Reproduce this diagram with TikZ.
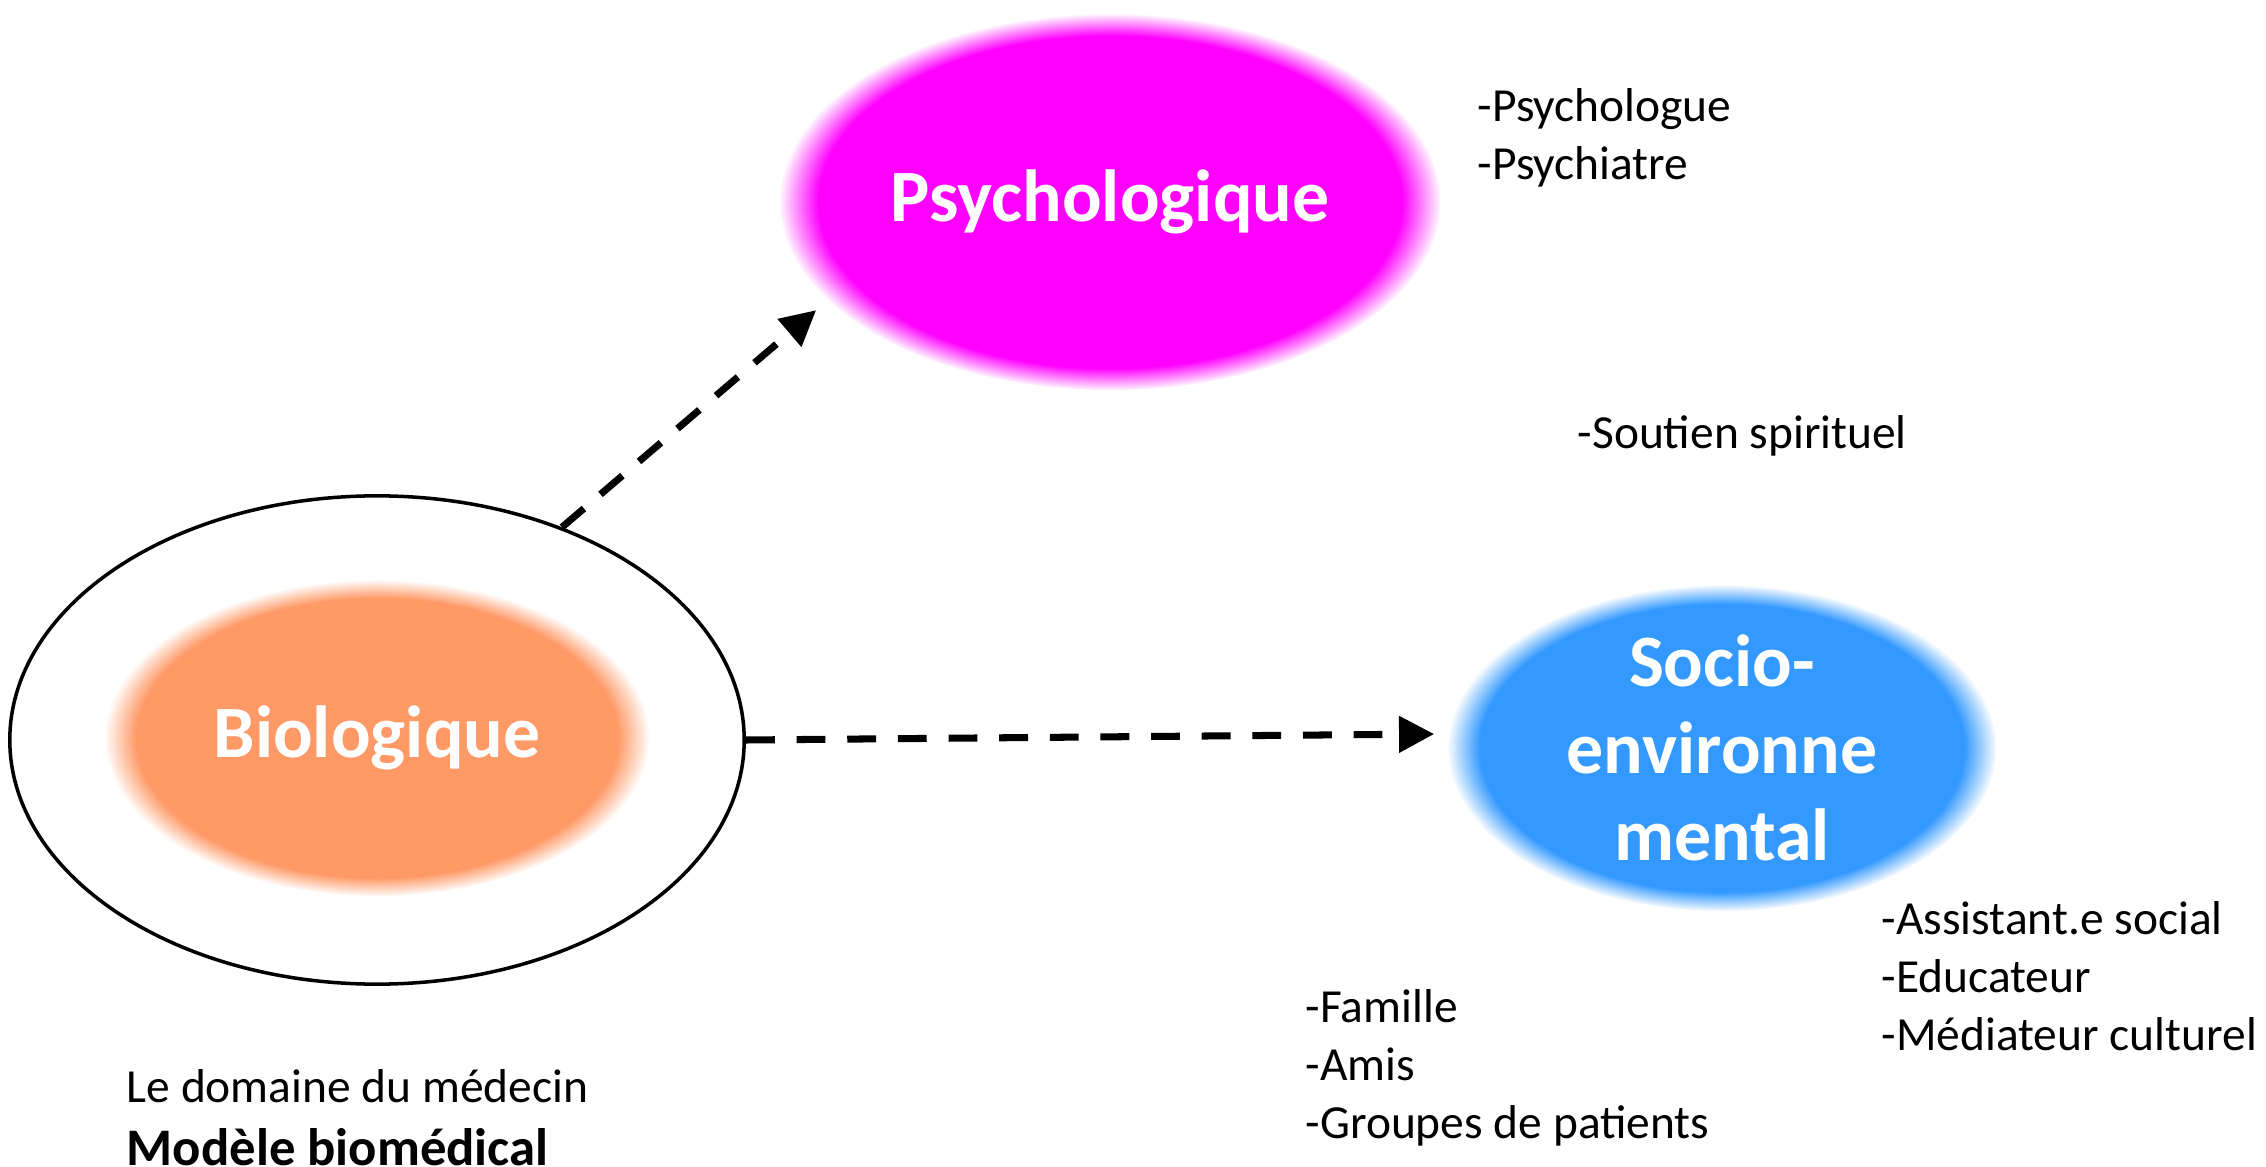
\documentclass[tikz,border=0pt]{standalone}
\usepackage{fontspec}
\setmainfont{Carlito}
\usetikzlibrary{positioning,shapes.geometric,arrows.meta,fadings,backgrounds}

\pgfdeclareradialshading{softrimshade}{\pgfpointorigin}{%
  color(0bp)=(pgftransparent!0); color(22bp)=(pgftransparent!0);
  color(25bp)=(pgftransparent!100); color(50bp)=(pgftransparent!100)}
\pgfdeclarefading{softrim}{\pgfuseshading{softrimshade}}

\definecolor{psycol}{HTML}{FF00FF}
\definecolor{biocol}{HTML}{FF9966}
\definecolor{soccol}{HTML}{3399FF}

\begin{document}
\begin{tikzpicture}[
                x=0.01cm,y=-0.01cm,
                blob/.style={ellipse,inner sep=0pt,text=white,align=center,
                    font=\fontsize{21}{24.7}\selectfont\bfseries},
                list/.style={anchor=west,inner sep=0pt,align=left,
                    font=\fontsize{13.5}{16.5}\selectfont},
                link/.style={line width=2pt,dash pattern=on 8.2pt off 6.2pt,
                    -{Triangle[length=10pt,width=10pt]},shorten >=0.18cm}
            ]
                \useasboundingbox (0,0) rectangle (2266,1167);
                \node (psy) [blob,minimum width=6.54cm,minimum height=3.7cm] at (1110,202) {Psychologique};
                \node (bio) [blob,minimum width=5.36cm,minimum height=3.1cm] at (377,738) {Biologique};
                \node (ring) [ellipse,draw,line width=1pt,minimum width=7.34cm,minimum height=4.88cm] at (377,740) {};
                \node (soc) [blob,minimum width=5.4cm,minimum height=3.2cm] at (1722,748) {Socio-\\environne\\mental};
                \begin{pgfonlayer}{background}
                    \fill[psycol,path fading=softrim] (psy.center) ellipse [x radius=3.3cm,y radius=1.88cm];
                    \fill[biocol,path fading=softrim] (bio.center) ellipse [x radius=2.72cm,y radius=1.58cm];
                    \fill[soccol,path fading=softrim] (soc.center) ellipse [x radius=2.74cm,y radius=1.63cm];
                \end{pgfonlayer}
                \draw[link] (ring.49) -- (psy.199);
                \draw[link] (ring.east) -- (soc.177);
                \node (psylist) [list] at (1477,138) {-Psychologue\\-Psychiatre};
                \node (spirit) [list] at (1577,436) {-Soutien spirituel};
                \node (soclist) [list] at (1881,976) {-Assistant.e social\\-Educateur\\-Médiateur culturel};
                \node (famlist) [list] at (1305,1068) {-Famille\\-Amis\\-Groupes de patients};
                \node (dom) [list] at (126,1086) {Le domaine du médecin};
                \node (model) [list,font=\fontsize{15}{18}\selectfont\bfseries] at (126,1147) {Modèle biomédical};
            \end{tikzpicture}
\end{document}
